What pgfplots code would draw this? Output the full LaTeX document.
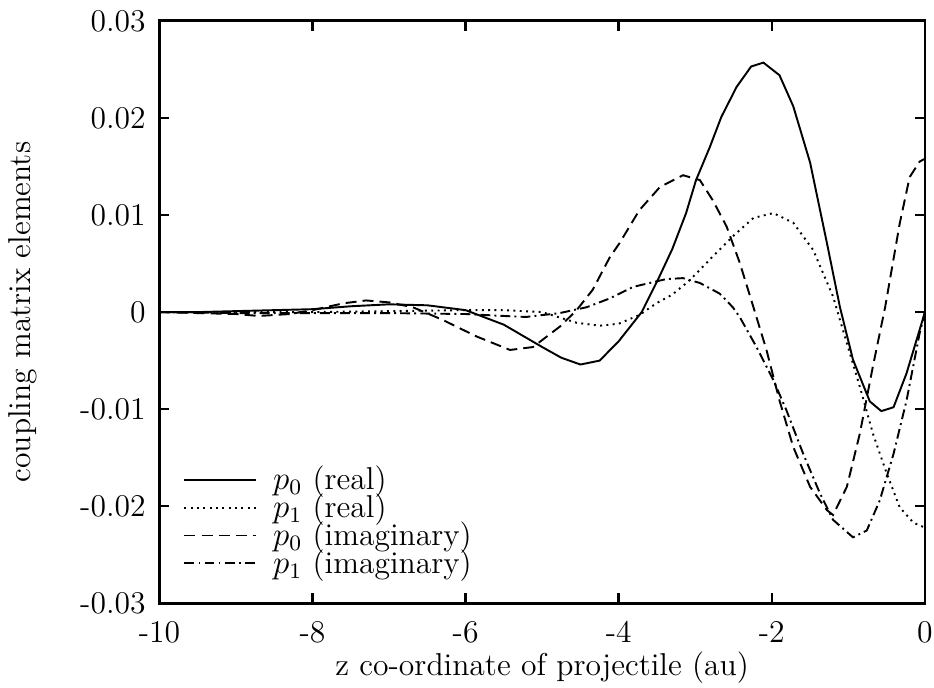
\documentclass[border=0pt]{standalone}
\usepackage{pgfplots}
\pgfplotsset{compat=1.18}
\begin{document}
\begin{tikzpicture}
\begin{axis}[
  name=ax,
  scale only axis,
  width=278.5pt, height=211.9pt,
  xmin=-10, xmax=0, ymin=-0.03, ymax=0.03,
  axis line style={line width=1pt},
  tick style={line width=0.9pt, black},
  major tick length=3.6pt,
  tick align=inside,
  xtick={-10,-8,-6,-4,-2,0},
  xticklabels={-10,-8,-6,-4,-2,0},
  ytick={-0.03,-0.02,-0.01,0,0.01,0.02,0.03},
  yticklabels={-0.03,-0.02,-0.01,0,0.01,0.02,0.03},
  scaled y ticks=false,
  tick label style={font=\fontsize{11.5}{13}\selectfont},
  label style={font=\fontsize{11.5}{13}\selectfont},
  yticklabel style={xshift=-1.5pt},
  xticklabel style={yshift=-3pt},
  xlabel={z co-ordinate of projectile (au)},
  ylabel={coupling matrix elements},
  xlabel style={at={(axis description cs:0.5,-0.111)}, anchor=center},
  ylabel style={at={(axis description cs:-0.178,0.5)}, anchor=center},
  legend cell align=left,
  legend style={at={(0.02,0.025)}, anchor=south west, draw=none, fill=none,
    row sep=-4pt, font=\fontsize{11.5}{13}\selectfont},
  legend image code/.code={\draw[#1] (0cm,0cm) -- (0.92cm,0cm); \path (1.05cm,0cm);},
  every axis plot/.append style={line width=0.7pt, black},
]
\addplot[solid] coordinates {
(-10,0) (-9.5,0) (-9,0.0001) (-8.5,0.0002) (-8,0.0003) (-7.5,0.0006) (-7,0.0008) (-6.5,0.0007) (-6,0.0002) (-5.5,-0.0013) (-5,-0.0036) (-4.75,-0.0047) (-4.5,-0.0054) (-4.25,-0.0050) (-4,-0.0030) (-3.7,0) (-3.49,0.0033) (-3.3,0.0065) (-3.12,0.0102) (-2.99,0.0136) (-2.81,0.0170) (-2.66,0.0201) (-2.46,0.0232) (-2.27,0.0253) (-2.11,0.0257) (-1.90,0.0244) (-1.72,0.0212) (-1.50,0.0154) (-1.28,0.0071) (-1.11,0.0005) (-0.94,-0.0049) (-0.72,-0.0092) (-0.57,-0.0102) (-0.41,-0.0098) (-0.24,-0.0063) (0,0)
};
\addlegendentry{$p_0$ (real)}
\addplot[dash pattern=on 0.7pt off 1.6pt] coordinates {
(-10,0) (-8,0) (-7,0.0001) (-6,0.0002) (-5.5,0.0002) (-5,0.0000) (-4.55,-0.0011) (-4.25,-0.0014) (-4.0,-0.0012) (-3.73,-0.0003) (-3.51,0.0009) (-3.3,0.0018) (-3.07,0.0033) (-2.8,0.0055) (-2.51,0.0078) (-2.24,0.0097) (-1.98,0.0102) (-1.72,0.0092) (-1.46,0.0064) (-1.20,0.0016) (-1.02,-0.0032) (-0.85,-0.0077) (-0.68,-0.0125) (-0.50,-0.0166) (-0.33,-0.0201) (-0.15,-0.0217) (0,-0.0222)
};
\addlegendentry{$p_1$ (real)}
\addplot[dash pattern=on 4pt off 2.2pt] coordinates {
(-10,0) (-9,-0.0002) (-8.7,-0.0004) (-8.3,-0.0002) (-8,0.0002) (-7.6,0.0009) (-7.3,0.0012) (-7.0,0.0010) (-6.69,0.0005) (-6.3,-0.0008) (-5.86,-0.0025) (-5.42,-0.0039) (-5.12,-0.0036) (-4.77,-0.0015) (-4.55,0.0002) (-4.34,0.0023) (-4.12,0.0056) (-3.99,0.0071) (-3.73,0.0105) (-3.46,0.0129) (-3.16,0.0141) (-2.94,0.0136) (-2.77,0.0115) (-2.59,0.0088) (-2.42,0.0051) (-2.24,0.0005) (-2.07,-0.0039) (-1.90,-0.0091) (-1.72,-0.0139) (-1.50,-0.0180) (-1.28,-0.0204) (-1.20,-0.0209) (-1.02,-0.0180) (-0.85,-0.0125) (-0.68,-0.0056) (-0.52,0.0005) (-0.33,0.0091) (-0.20,0.0139) (-0.07,0.0155) (0,0.0158)
};
\addlegendentry{$p_0$ (imaginary)}
\addplot[dash pattern=on 3.6pt off 1.5pt on 0.7pt off 1.5pt] coordinates {
(-10,0) (-9,-0.0001) (-8,-0.0001) (-7,-0.0001) (-6,-0.0002) (-5.5,-0.0004) (-5.21,-0.0005) (-4.77,-0.0001) (-4.42,0.0005) (-4.12,0.0014) (-3.81,0.0026) (-3.38,0.0034) (-3.16,0.0035) (-2.94,0.0030) (-2.68,0.0019) (-2.51,0.0005) (-2.42,-0.0005) (-2.20,-0.0036) (-1.98,-0.0070) (-1.81,-0.0101) (-1.59,-0.0146) (-1.37,-0.0187) (-1.20,-0.0214) (-0.94,-0.0232) (-0.76,-0.0225) (-0.59,-0.0194) (-0.41,-0.0146) (-0.24,-0.0091) (-0.07,-0.0022) (0,0)
};
\addlegendentry{$p_1$ (imaginary)}
\end{axis}
\pgfresetboundingbox
\path[use as bounding box] ([xshift=-58pt,yshift=-30.6pt]ax.south west) rectangle ([xshift=3.3pt,yshift=7.6pt]ax.north east);
\end{tikzpicture}
\end{document}
